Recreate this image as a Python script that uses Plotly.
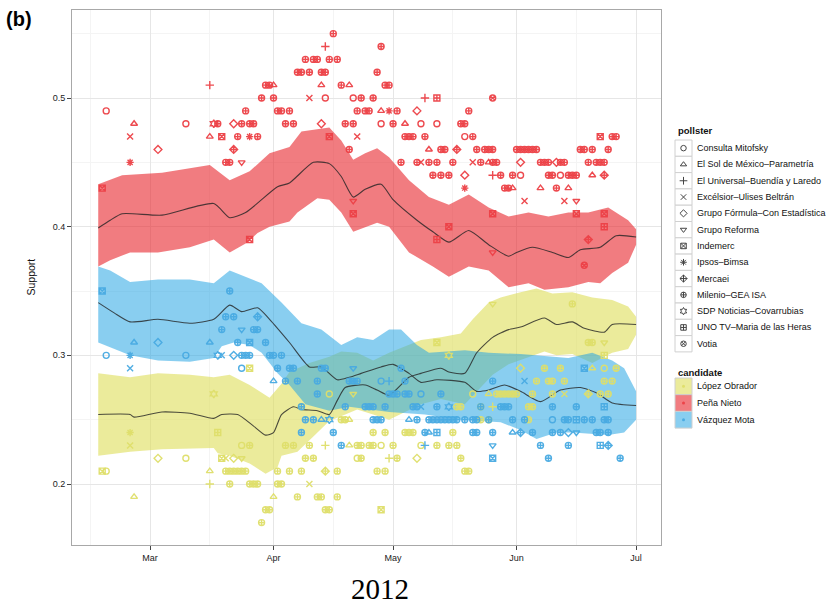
import plotly.graph_objects as go

# ---------------------------------------------------------------- data
candidates = ["López Obrador", "Peña Nieto", "Vázquez Mota"]

pollster_codes = ["CM", "SOL", "EU", "EX", "GF", "GR", "IND", "IPS", "MER", "MIL", "SDP", "UNO", "VOT"]
pollster_names = [
    "Consulta Mitofsky", "El Sol de México–Parametría", "El Universal–Buendía y Laredo",
    "Excélsior–Ulises Beltrán", "Grupo Fórmula–Con Estadística", "Grupo Reforma",
    "Indemerc", "Ipsos–Bimsa", "Mercaei", "Milenio–GEA ISA",
    "SDP Noticias–Covarrubias", "UNO TV–Maria de las Heras", "Votia",
]

month_ticks = ["2012-03-01", "2012-04-01", "2012-05-01", "2012-06-01", "2012-07-01"]
month_labels = ["Mar", "Apr", "May", "Jun", "Jul"]
support_ticks = [0.2, 0.3, 0.4, 0.5]

# smoothed estimate and interval per candidate: (MM-DD, support)
lo_line = [("02-17", .254), ("02-25", .254), ("02-26", .252), ("03-04", .256), ("03-11", .255),
           ("03-17", .251), ("03-19", .254), ("03-23", .254), ("03-27", .245), ("03-30", .238),
           ("04-01", .240), ("04-03", .254), ("04-06", .260), ("04-08", .258), ("04-12", .257),
           ("04-15", .254), ("04-17", .265), ("04-19", .275), ("04-24", .277), ("04-27", .273),
           ("04-30", .269), ("05-05", .283), ("05-08", .286), ("05-13", .290), ("05-15", .287),
           ("05-19", .286), ("05-22", .302), ("05-26", .314), ("05-30", .320), ("06-02", .322),
           ("06-08", .329), ("06-11", .324), ("06-15", .326), ("06-18", .321), ("06-23", .318),
           ("06-25", .324), ("07-01", .324)]
lo_upper = [("02-17", .286), ("02-25", .283), ("03-03", .286), ("03-11", .285), ("03-17", .283),
            ("03-21", .285), ("03-26", .277), ("03-31", .267), ("04-03", .278), ("04-05", .287),
            ("04-10", .294), ("04-15", .299), ("04-18", .303), ("04-22", .302), ("04-26", .296),
            ("04-30", .302), ("05-08", .312), ("05-13", .314), ("05-18", .317), ("05-21", .328),
            ("05-25", .341), ("05-28", .345), ("06-02", .349), ("06-06", .352), ("06-10", .348),
            ("06-15", .349), ("06-20", .345), ("06-25", .343), ("06-29", .338), ("07-01", .330)]
lo_lower = [("02-17", .222), ("02-25", .225), ("03-04", .227), ("03-17", .228), ("03-18", .224),
            ("03-21", .222), ("03-26", .216), ("03-30", .208), ("04-02", .213), ("04-03", .222),
            ("04-07", .225), ("04-11", .237), ("04-15", .249), ("04-19", .254), ("04-22", .258),
            ("04-26", .254), ("04-30", .250), ("05-04", .256), ("05-08", .262), ("05-13", .266),
            ("05-19", .262), ("05-22", .272), ("05-26", .285), ("05-30", .293), ("06-02", .296),
            ("06-08", .303), ("06-11", .300), ("06-15", .301), ("06-20", .294), ("06-25", .302),
            ("06-29", .305), ("07-01", .316)]

pn_line = [("02-17", .399), ("02-20", .405), ("02-23", .410), ("03-04", .409), ("03-17", .418),
           ("03-21", .407), ("03-25", .411), ("04-02", .431), ("04-05", .434), ("04-11", .450),
           ("04-15", .449), ("04-18", .439), ("04-21", .423), ("04-24", .429), ("04-28", .433),
           ("05-01", .421), ("05-07", .405), ("05-11", .396), ("05-15", .388), ("05-20", .397),
           ("05-25", .386), ("05-30", .377), ("06-01", .380), ("06-05", .384), ("06-10", .380),
           ("06-14", .376), ("06-17", .382), ("06-22", .384), ("06-26", .393), ("07-01", .392)]
pn_upper = [("02-17", .433), ("02-23", .440), ("03-04", .442), ("03-16", .448), ("03-21", .436),
            ("03-26", .443), ("03-31", .457), ("04-05", .462), ("04-08", .474), ("04-15", .477),
            ("04-18", .467), ("04-21", .452), ("04-24", .457), ("04-27", .461), ("04-30", .454),
            ("05-05", .436), ("05-10", .423), ("05-15", .417), ("05-20", .425), ("05-25", .415),
            ("05-30", .408), ("06-04", .411), ("06-09", .408), ("06-14", .411), ("06-19", .411),
            ("06-24", .415), ("06-29", .405), ("07-01", .398)]
pn_lower = [("02-17", .369), ("02-20", .374), ("02-25", .380), ("03-03", .380), ("03-11", .384),
            ("03-17", .390), ("03-21", .380), ("03-25", .387), ("03-28", .395), ("03-31", .400),
            ("04-05", .404), ("04-07", .411), ("04-12", .422), ("04-15", .421), ("04-18", .411),
            ("04-21", .396), ("04-27", .403), ("04-30", .400), ("05-05", .380), ("05-11", .369),
            ("05-15", .361), ("05-20", .369), ("05-25", .366), ("05-30", .353), ("06-04", .356),
            ("06-08", .351), ("06-14", .353), ("06-19", .357), ("06-22", .356), ("06-25", .364),
            ("06-29", .372), ("07-01", .386)]

vm_line = [("02-17", .341), ("02-21", .333), ("02-25", .326), ("03-03", .328), ("03-11", .325),
           ("03-17", .328), ("03-21", .339), ("03-24", .334), ("03-28", .337), ("03-31", .328),
           ("04-05", .310), ("04-10", .291), ("04-13", .291), ("04-17", .281), ("04-20", .283),
           ("04-23", .286), ("04-28", .291), ("05-01", .293), ("05-05", .286), ("05-08", .279),
           ("05-12", .281), ("05-19", .279), ("05-22", .272), ("05-25", .273), ("05-29", .277),
           ("06-02", .272), ("06-07", .264), ("06-12", .273), ("06-17", .275), ("06-21", .271),
           ("06-25", .263), ("07-01", .261)]
vm_upper = [("02-17", .369), ("02-20", .366), ("02-25", .357), ("03-03", .359), ("03-11", .359),
            ("03-17", .356), ("03-21", .366), ("03-25", .361), ("03-29", .356), ("04-03", .341),
            ("04-08", .325), ("04-13", .320), ("04-18", .308), ("04-22", .314), ("04-26", .312),
            ("04-30", .320), ("05-03", .320), ("05-07", .308), ("05-10", .302), ("05-19", .304),
            ("05-25", .302), ("06-02", .301), ("06-09", .299), ("06-14", .298), ("06-20", .302),
            ("06-25", .296), ("06-28", .290), ("07-01", .272)]
vm_lower = [("02-17", .310), ("02-25", .300), ("03-03", .296), ("03-11", .295), ("03-17", .298),
            ("03-19", .307), ("03-22", .310), ("03-26", .308), ("03-29", .302), ("04-02", .286),
            ("04-05", .277), ("04-09", .262), ("04-15", .257), ("04-20", .260), ("04-30", .256),
            ("05-09", .254), ("05-18", .250), ("05-28", .248), ("06-02", .242), ("06-06", .235),
            ("06-11", .240), ("06-15", .240), ("06-24", .238), ("06-28", .240), ("07-01", .250)]

# individual poll results: (MM-DD, support, pollster code)
pn_polls = [
    ("04-16", .55, "MIL"),
    ("04-14", .54, "EU"), ("04-28", .54, "MIL"),
    ("04-09", .53, "MIL"), ("04-11", .53, "MIL"), ("04-12", .53, "MIL"), ("04-15", .53, "MIL"), ("04-17", .53, "MIL"),
    ("04-07", .52, "MIL"), ("04-08", .52, "MIL"), ("04-10", .52, "MIL"), ("04-13", .52, "MIL"), ("04-14", .52, "MIL"),
    ("04-27", .52, "MIL"),
    ("03-16", .51, "EU"), ("03-30", .51, "MIL"), ("03-31", .51, "MIL"), ("04-01", .51, "SOL"), ("04-13", .51, "SOL"),
    ("04-18", .51, "MIL"), ("04-20", .51, "SOL"), ("04-29", .51, "MIL"), ("04-30", .51, "MIL"),
    ("03-29", .50, "MIL"), ("04-01", .50, "MIL"), ("04-10", .50, "EX"), ("04-14", .50, "CM"), ("04-21", .50, "CM"),
    ("04-23", .50, "MIL"), ("04-26", .50, "MIL"), ("05-09", .50, "EU"), ("05-12", .50, "UNO"), ("05-26", .50, "VOT"),
    ("02-19", .49, "CM"), ("03-25", .49, "MIL"), ("04-02", .49, "MIL"), ("04-03", .49, "MIL"), ("04-05", .49, "MIL"),
    ("04-22", .49, "MIL"), ("04-24", .49, "MIL"), ("04-25", .49, "MIL"), ("04-28", .49, "SOL"), ("04-30", .49, "IPS"),
    ("05-02", .49, "MIL"), ("05-07", .49, "GF"), ("05-20", .49, "MIL"),
    ("02-26", .48, "SOL"), ("03-10", .48, "CM"), ("03-17", .48, "SDP"), ("03-18", .48, "MIL"), ("03-22", .48, "GF"),
    ("03-24", .48, "MIL"), ("03-26", .48, "MIL"), ("03-27", .48, "MIL"), ("04-04", .48, "MIL"), ("04-06", .48, "MIL"),
    ("04-13", .48, "GF"), ("04-19", .48, "MIL"), ("04-21", .48, "MIL"), ("04-28", .48, "CM"), ("05-01", .48, "MIL"),
    ("05-04", .48, "SOL"), ("05-08", .48, "CM"), ("05-12", .48, "CM"), ("05-18", .48, "MIL"), ("05-19", .48, "MIL"),
    ("02-25", .47, "EX"), ("03-16", .47, "SOL"), ("03-19", .47, "IND"), ("03-23", .47, "MIL"), ("03-26", .47, "IPS"),
    ("03-28", .47, "MIL"), ("04-15", .47, "IND"), ("04-22", .47, "EX"), ("05-04", .47, "MIL"), ("05-05", .47, "MIL"),
    ("05-06", .47, "MIL"), ("05-09", .47, "MIL"), ("05-19", .47, "CM"), ("05-21", .47, "MIL"), ("06-22", .47, "IND"),
    ("06-25", .47, "MIL"), ("06-26", .47, "MIL"),
    ("03-03", .46, "GF"), ("03-22", .46, "MER"), ("04-20", .46, "MIL"), ("05-10", .46, "SOL"), ("05-13", .46, "MIL"),
    ("05-14", .46, "MIL"), ("05-17", .46, "MER"), ("05-22", .46, "MIL"), ("05-24", .46, "MIL"), ("05-25", .46, "MIL"),
    ("05-26", .46, "MIL"), ("06-01", .46, "MIL"), ("06-02", .46, "MIL"), ("06-03", .46, "MIL"), ("06-04", .46, "MIL"),
    ("06-05", .46, "MIL"), ("06-06", .46, "MIL"), ("06-17", .46, "MIL"), ("06-18", .46, "MIL"), ("06-20", .46, "MIL"),
    ("06-24", .46, "MIL"),
    ("02-25", .45, "IPS"), ("03-20", .45, "MIL"), ("03-21", .45, "MIL"), ("03-24", .45, "GR"), ("05-03", .45, "MIL"),
    ("05-07", .45, "MIL"), ("05-08", .45, "EX"), ("05-10", .45, "MIL"), ("05-12", .45, "MIL"), ("05-16", .45, "MIL"),
    ("05-21", .45, "EX"), ("05-23", .45, "MIL"), ("05-25", .45, "SOL"), ("05-26", .45, "MIL"), ("05-27", .45, "MIL"),
    ("06-02", .45, "GF"), ("06-07", .45, "MIL"), ("06-08", .45, "MIL"), ("06-09", .45, "MIL"), ("06-11", .45, "GF"),
    ("06-12", .45, "MIL"), ("06-13", .45, "MIL"), ("06-19", .45, "MIL"), ("06-21", .45, "MIL"), ("06-22", .45, "MIL"),
    ("06-23", .45, "MIL"),
    ("05-11", .44, "MIL"), ("05-13", .44, "MIL"), ("05-15", .44, "MIL"), ("05-19", .44, "GF"), ("05-26", .44, "EU"),
    ("05-28", .44, "MIL"), ("05-31", .44, "MIL"), ("06-02", .44, "CM"), ("06-09", .44, "MIL"), ("06-10", .44, "MIL"),
    ("06-12", .44, "CM"), ("06-14", .44, "MIL"), ("06-15", .44, "MIL"), ("06-16", .44, "MIL"), ("06-20", .44, "SOL"),
    ("06-23", .44, "MER"),
    ("02-18", .43, "IND"), ("05-19", .43, "IPS"), ("05-29", .43, "MIL"), ("05-30", .43, "MIL"), ("05-31", .43, "SOL"),
    ("06-07", .43, "SOL"), ("06-11", .43, "MIL"), ("06-14", .43, "SOL"),
    ("04-21", .42, "GR"), ("06-03", .42, "EX"), ("06-13", .42, "EX"), ("06-16", .42, "GR"),
    ("04-21", .41, "IND"), ("05-26", .41, "IND"), ("06-16", .41, "IND"), ("06-23", .41, "IND"),
    ("05-15", .40, "IND"), ("06-23", .40, "UNO"),
    ("03-26", .39, "IND"), ("05-12", .39, "UNO"), ("06-19", .39, "MER"),
    ("05-26", .38, "GR"),
    ("06-18", .37, "VOT"),
]

vm_polls = [
    ("02-18", .35, "IND"), ("03-21", .35, "MIL"),
    ("03-20", .33, "MIL"), ("03-22", .33, "MIL"), ("03-28", .33, "MER"),
    ("03-19", .32, "MIL"), ("03-24", .32, "GR"), ("03-27", .32, "MIL"), ("03-28", .32, "MIL"),
    ("02-26", .31, "SOL"), ("03-03", .31, "GF"), ("03-16", .31, "SOL"), ("03-23", .31, "MIL"), ("03-26", .31, "IND"),
    ("03-30", .31, "MIL"),
    ("02-19", .30, "CM"), ("02-25", .30, "IPS"), ("03-10", .30, "CM"), ("03-18", .30, "SDP"), ("03-19", .30, "EX"),
    ("03-22", .30, "GF"), ("03-24", .30, "MIL"), ("03-25", .30, "MIL"), ("03-26", .30, "MIL"), ("03-31", .30, "MIL"),
    ("04-01", .30, "MIL"), ("04-03", .30, "MIL"),
    ("02-25", .29, "EX"), ("03-24", .29, "CM"), ("04-02", .29, "MIL"), ("04-05", .29, "MIL"), ("04-06", .29, "MIL"),
    ("04-13", .29, "MIL"), ("04-14", .29, "MIL"), ("04-21", .29, "GR"), ("05-03", .29, "MIL"), ("06-18", .29, "IND"),
    ("04-01", .28, "SOL"), ("04-04", .28, "MIL"), ("04-07", .28, "MIL"), ("04-12", .28, "MIL"), ("04-20", .28, "MIL"),
    ("04-21", .28, "MIL"), ("04-22", .28, "MIL"), ("04-28", .28, "CM"), ("04-30", .28, "EU"), ("05-04", .28, "MIL"),
    ("05-26", .28, "MIL"), ("06-03", .28, "EX"),
    ("04-12", .27, "MIL"), ("04-30", .27, "MIL"), ("05-01", .27, "MIL"), ("05-02", .27, "MIL"), ("05-04", .27, "MIL"),
    ("05-05", .27, "MIL"), ("05-08", .27, "CM"), ("05-13", .27, "MIL"),
    ("04-08", .26, "MIL"), ("04-19", .26, "MIL"), ("04-24", .26, "MIL"), ("04-25", .26, "MIL"), ("04-26", .26, "MIL"),
    ("04-29", .26, "MIL"), ("05-06", .26, "MIL"), ("05-07", .26, "MIL"), ("05-08", .26, "EX"), ("05-12", .26, "MIL"),
    ("05-15", .26, "SDP"), ("05-23", .26, "MIL"), ("05-28", .26, "MIL"), ("05-29", .26, "MIL"), ("05-30", .26, "MIL"),
    ("06-10", .26, "MIL"), ("06-16", .26, "MIL"), ("06-23", .26, "UNO"),
    ("04-09", .25, "MIL"), ("04-11", .25, "MIL"), ("04-13", .25, "SOL"), ("04-15", .25, "SDP"), ("04-26", .25, "MIL"),
    ("04-27", .25, "MIL"), ("04-28", .25, "MIL"), ("05-05", .25, "SOL"), ("05-07", .25, "MIL"), ("05-10", .25, "MIL"),
    ("05-11", .25, "MIL"), ("05-12", .25, "MIL"), ("05-13", .25, "MIL"), ("05-14", .25, "MIL"), ("05-15", .25, "MIL"),
    ("05-16", .25, "MIL"), ("05-17", .25, "MIL"), ("05-19", .25, "MIL"), ("05-21", .25, "MIL"), ("05-22", .25, "MIL"),
    ("05-25", .25, "MIL"), ("05-31", .25, "MIL"), ("06-03", .25, "MIL"), ("06-10", .25, "CM"), ("06-13", .25, "MIL"),
    ("06-14", .25, "MIL"), ("06-16", .25, "UNO"), ("06-18", .25, "MIL"), ("06-20", .25, "MIL"), ("06-23", .25, "MIL"),
    ("06-24", .25, "MIL"),
    ("04-08", .24, "MIL"), ("04-16", .24, "MIL"), ("05-09", .24, "MIL"), ("05-10", .24, "SOL"), ("05-12", .24, "UNO"),
    ("05-21", .24, "MIL"), ("05-22", .24, "MIL"), ("05-26", .24, "MIL"), ("05-31", .24, "SOL"), ("06-02", .24, "MER"),
    ("06-05", .24, "MIL"), ("06-10", .24, "MIL"), ("06-12", .24, "MIL"), ("06-14", .24, "GF"), ("06-16", .24, "GR"),
    ("06-21", .24, "MIL"), ("06-22", .24, "MIL"), ("06-24", .24, "MIL"),
    ("04-18", .23, "MIL"), ("05-09", .23, "EU"), ("05-26", .23, "GR"), ("06-07", .23, "MIL"), ("06-14", .23, "MIL"),
    ("06-22", .23, "UNO"), ("06-24", .23, "MER"),
    ("05-26", .22, "IND"), ("06-09", .22, "MIL"), ("06-27", .22, "MIL"),
]

lo_polls = [
    ("02-18", .21, "IND"), ("02-19", .21, "CM"), ("02-25", .23, "EX"), ("02-25", .24, "IPS"), ("02-26", .19, "SOL"),
    ("03-03", .22, "GF"), ("03-10", .22, "CM"), ("03-16", .20, "EU"), ("03-16", .21, "SOL"), ("03-17", .27, "SDP"),
    ("03-18", .24, "UNO"), ("03-19", .22, "IND"), ("03-20", .22, "EX"),
    ("03-20", .21, "MIL"), ("03-21", .21, "MIL"), ("03-22", .22, "GF"), ("03-24", .22, "GR"),
    ("03-22", .21, "MIL"), ("03-23", .21, "MIL"), ("03-24", .21, "MIL"), ("03-25", .21, "MIL"),
    ("03-21", .20, "MIL"), ("03-26", .20, "MIL"), ("03-27", .20, "MIL"), ("03-28", .20, "MIL"),
    ("03-24", .23, "CM"), ("03-26", .23, "MIL"), ("03-26", .29, "IND"),
    ("03-30", .18, "MIL"), ("03-31", .18, "MIL"), ("03-29", .17, "MIL"),
    ("04-01", .19, "SOL"), ("04-07", .19, "MIL"), ("04-12", .19, "MIL"), ("04-13", .19, "MIL"), ("04-17", .19, "MIL"),
    ("04-02", .20, "MIL"), ("04-03", .20, "MIL"), ("04-10", .20, "EX"),
    ("04-02", .21, "MIL"), ("04-05", .21, "MIL"), ("04-08", .21, "MIL"), ("04-14", .21, "MER"), ("04-17", .21, "MIL"),
    ("04-27", .21, "MIL"), ("04-29", .21, "MIL"), ("05-19", .21, "MIL"), ("05-20", .21, "MIL"),
    ("04-14", .18, "MIL"), ("04-15", .18, "MIL"), ("04-28", .18, "IND"),
    ("04-09", .22, "MIL"), ("04-11", .22, "MIL"), ("04-22", .22, "CM"), ("04-23", .22, "MIL"), ("04-30", .22, "EU"),
    ("05-02", .22, "MIL"), ("05-07", .22, "GF"), ("05-18", .22, "MIL"),
    ("04-04", .23, "MIL"), ("04-06", .23, "MIL"), ("04-10", .23, "MIL"), ("04-14", .23, "EU"), ("04-20", .23, "SOL"),
    ("04-22", .23, "MIL"), ("04-23", .23, "MIL"), ("04-25", .23, "MIL"), ("04-26", .23, "MIL"), ("04-28", .23, "CM"),
    ("05-01", .23, "MIL"), ("05-08", .23, "CM"), ("05-12", .23, "MIL"), ("05-15", .23, "MIL"), ("05-17", .23, "MIL"),
    ("04-26", .24, "MIL"), ("04-29", .24, "MIL"), ("05-04", .24, "MIL"), ("05-05", .24, "MIL"), ("05-06", .24, "MIL"),
    ("05-16", .24, "MIL"),
    ("04-18", .25, "MIL"), ("04-19", .25, "MIL"), ("04-20", .25, "SOL"), ("05-23", .25, "MIL"), ("05-25", .25, "MIL"),
    ("06-04", .25, "MIL"),
    ("04-08", .26, "MIL"), ("05-17", .26, "MIL"), ("05-18", .26, "MIL"), ("05-23", .26, "MIL"), ("05-26", .26, "EU"),
    ("06-04", .26, "MIL"), ("06-05", .26, "MIL"),
    ("04-15", .27, "CM"), ("04-21", .27, "GR"), ("05-21", .27, "CM"), ("05-25", .27, "SOL"), ("05-27", .27, "MIL"),
    ("05-28", .27, "MIL"), ("05-29", .27, "MIL"), ("05-30", .27, "MIL"), ("05-31", .27, "MIL"), ("06-01", .27, "MIL"),
    ("06-05", .27, "MIL"), ("06-10", .27, "MIL"), ("06-13", .27, "EX"), ("06-19", .27, "MER"), ("06-22", .27, "MIL"),
    ("06-24", .27, "MIL"),
    ("06-06", .28, "MIL"), ("06-09", .28, "MIL"), ("06-10", .28, "MIL"), ("06-13", .28, "MIL"), ("06-23", .28, "MIL"),
    ("06-25", .28, "MIL"),
    ("06-02", .29, "GF"), ("06-08", .29, "MIL"), ("06-12", .29, "MIL"), ("06-20", .29, "SOL"), ("06-23", .29, "CM"),
    ("06-26", .29, "MIL"),
    ("05-15", .30, "SDP"), ("06-23", .30, "UNO"),
    ("05-12", .31, "IND"), ("06-19", .31, "MIL"), ("06-20", .31, "MIL"), ("06-23", .31, "GR"),
    ("05-26", .34, "GR"), ("06-15", .34, "MIL"),
]

# ---------------------------------------------------------------- style
symbols = {
    "CM": "circle-open", "SOL": "triangle-up-open", "EU": "cross-thin-open", "EX": "x-thin-open",
    "GF": "diamond-open", "GR": "triangle-down-open", "IND": "square-x-open", "IPS": "asterisk-open",
    "MER": "diamond-cross-open", "MIL": "circle-cross-open", "SDP": "hexagram-open",
    "UNO": "square-cross-open", "VOT": "circle-x-open",
}
band_fill = {"López Obrador": "rgba(222,222,88,0.6)",
             "Peña Nieto": "rgba(232,36,44,0.6)",
             "Vázquez Mota": "rgba(40,165,228,0.55)"}
point_col = {"López Obrador": "rgba(222,222,105,0.95)",
             "Peña Nieto": "rgba(236,64,70,0.95)",
             "Vázquez Mota": "rgba(72,170,226,0.95)"}

FONT = "Liberation Sans, Arial, sans-serif"
W, H = 834, 610
PX0, PX1, PY0, PY1 = 72, 661, 10, 545   # panel box in page pixels


def d(md):
    return "2012-" + md


series = {
    "López Obrador": (lo_line, lo_upper, lo_lower, lo_polls),
    "Peña Nieto": (pn_line, pn_upper, pn_lower, pn_polls),
    "Vázquez Mota": (vm_line, vm_upper, vm_lower, vm_polls),
}

fig = go.Figure()

# uncertainty bands
for cand in candidates:
    line, up, lo, _ = series[cand]
    xs = [d(t) for t, _ in up] + [d(t) for t, _ in reversed(lo)]
    ys = [v for _, v in up] + [v for _, v in reversed(lo)]
    fig.add_trace(go.Scatter(x=xs, y=ys, fill="toself", fillcolor=band_fill[cand],
                             mode="lines", line=dict(width=0), hoverinfo="skip",
                             showlegend=False))

# smoothed estimates
for cand in candidates:
    line = series[cand][0]
    fig.add_trace(go.Scatter(x=[d(t) for t, _ in line], y=[v for _, v in line],
                             mode="lines", line=dict(color="rgba(35,35,35,0.8)", width=1.1,
                                                     shape="spline", smoothing=0.6),
                             showlegend=False))

# poll results
for cand in candidates:
    polls = series[cand][3]
    fig.add_trace(go.Scatter(
        x=[d(t) for t, _, _ in polls], y=[v for _, v, _ in polls], mode="markers",
        marker=dict(symbol=[symbols[p] for _, _, p in polls], size=6,
                    color=point_col[cand], line=dict(width=1.4, color=point_col[cand])),
        showlegend=False, name=cand))

# ---------------------------------------------------------------- legend (drawn on a page-pixel overlay axis)
shapes, annotations = [], []
KX0, KX1 = 675, 692
annotations.append(dict(x=676, y=130, text="<b>pollster</b>", showarrow=False, xanchor="left",
                        yanchor="middle", font=dict(family=FONT, size=9.5, color="#111")))
row_h = 16.3
leg_x, leg_y, leg_sym = [], [], []
for i, (code, name) in enumerate(zip(pollster_codes, pollster_names)):
    top = 140 + i * row_h
    cy = top + row_h / 2
    shapes.append(dict(type="rect", xref="x2", yref="y2", x0=KX0, x1=KX1, y0=top, y1=top + row_h,
                       line=dict(color="#D0D0D0", width=1), fillcolor="white", layer="below"))
    leg_x.append((KX0 + KX1) / 2)
    leg_y.append(cy)
    leg_sym.append(symbols[code])
    annotations.append(dict(x=695, y=cy, text=name, showarrow=False, xanchor="left", yanchor="middle",
                            font=dict(family=FONT, size=9, color="#111")))

annotations.append(dict(x=676, y=372, text="<b>candidate</b>", showarrow=False, xanchor="left",
                        yanchor="middle", font=dict(family=FONT, size=9.5, color="#111")))
ck_x, ck_y, ck_c = [], [], []
ck_h = 16.7
for i, cand in enumerate(candidates):
    top = 378 + i * ck_h
    cy = top + ck_h / 2
    shapes.append(dict(type="rect", xref="x2", yref="y2", x0=KX0, x1=KX1, y0=top, y1=top + ck_h,
                       line=dict(color="#D0D0D0", width=1), fillcolor=band_fill[cand], layer="below"))
    ck_x.append((KX0 + KX1) / 2)
    ck_y.append(cy)
    ck_c.append(point_col[cand])
    annotations.append(dict(x=695, y=cy, text=cand, showarrow=False, xanchor="left", yanchor="middle",
                            font=dict(family=FONT, size=9, color="#111")))

for a in annotations:
    a.update(xref="x2", yref="y2")

fig.add_trace(go.Scatter(x=leg_x, y=leg_y, mode="markers", xaxis="x2", yaxis="y2",
                         marker=dict(symbol=leg_sym, size=5.5, color="#444",
                                     line=dict(width=1, color="#444")),
                         showlegend=False, hoverinfo="skip"))
fig.add_trace(go.Scatter(x=ck_x, y=ck_y, mode="markers", xaxis="x2", yaxis="y2",
                         marker=dict(symbol="circle", size=3, color=ck_c),
                         showlegend=False, hoverinfo="skip"))

# panel label, axis title and year caption
annotations += [
    dict(x=4, y=19, xref="x2", yref="y2", text="<b>(b)</b>", showarrow=False, xanchor="left",
         yanchor="middle", font=dict(family=FONT, size=20, color="#000")),
    dict(x=30, y=(PY0 + PY1) / 2, xref="x2", yref="y2", text="Support", textangle=-90,
         showarrow=False, xanchor="center", yanchor="middle", font=dict(family=FONT, size=10.5, color="#111")),
    dict(x=380, y=589, xref="x2", yref="y2", text="2012", showarrow=False, xanchor="center",
         yanchor="middle", font=dict(family="Liberation Serif, Times New Roman, serif", size=29, color="#000")),
]

fig.update_layout(
    width=W, height=H, margin=dict(l=0, r=0, t=0, b=0),
    paper_bgcolor="white", plot_bgcolor="rgba(0,0,0,0)",
    showlegend=False, shapes=shapes, annotations=annotations,
    xaxis=dict(type="date", domain=[PX0 / W, PX1 / W], anchor="y",
               range=["2012-02-10 10:00", "2012-07-07 06:00"],
               tickmode="array", tickvals=month_ticks, ticktext=month_labels,
               ticks="outside", ticklen=4, tickcolor="#444", tickwidth=1,
               tickfont=dict(family=FONT, size=9, color="#222"),
               showgrid=True, gridcolor="#E6E6E6", gridwidth=1,
               minor=dict(tickvals=["2012-02-15", "2012-03-16", "2012-04-16", "2012-05-16", "2012-06-16"],
                          showgrid=True, gridcolor="#F4F4F4", gridwidth=1, ticks=""),
               showline=True, mirror=True, linecolor="#A8A8A8", linewidth=1,
               zeroline=False, automargin=False, fixedrange=True),
    yaxis=dict(domain=[(H - PY1) / H, (H - PY0) / H], anchor="x",
               range=[0.1526, 0.5684], tickmode="array", tickvals=support_ticks,
               ticktext=[f"{v:.1f}" for v in support_ticks],
               ticks="outside", ticklen=4, tickcolor="#444", tickwidth=1,
               tickfont=dict(family=FONT, size=9, color="#222"),
               showgrid=True, gridcolor="#E6E6E6", gridwidth=1,
               minor=dict(tickvals=[0.25, 0.35, 0.45, 0.55], showgrid=True, gridcolor="#F4F4F4",
                          gridwidth=1, ticks=""),
               showline=True, mirror=True, linecolor="#A8A8A8", linewidth=1,
               zeroline=False, automargin=False, fixedrange=True),
    xaxis2=dict(domain=[0, 1], range=[0, W], anchor="y2", visible=False, fixedrange=True),
    yaxis2=dict(domain=[0, 1], range=[H, 0], anchor="x2", visible=False, fixedrange=True),
)

fig.write_html("out.html")
